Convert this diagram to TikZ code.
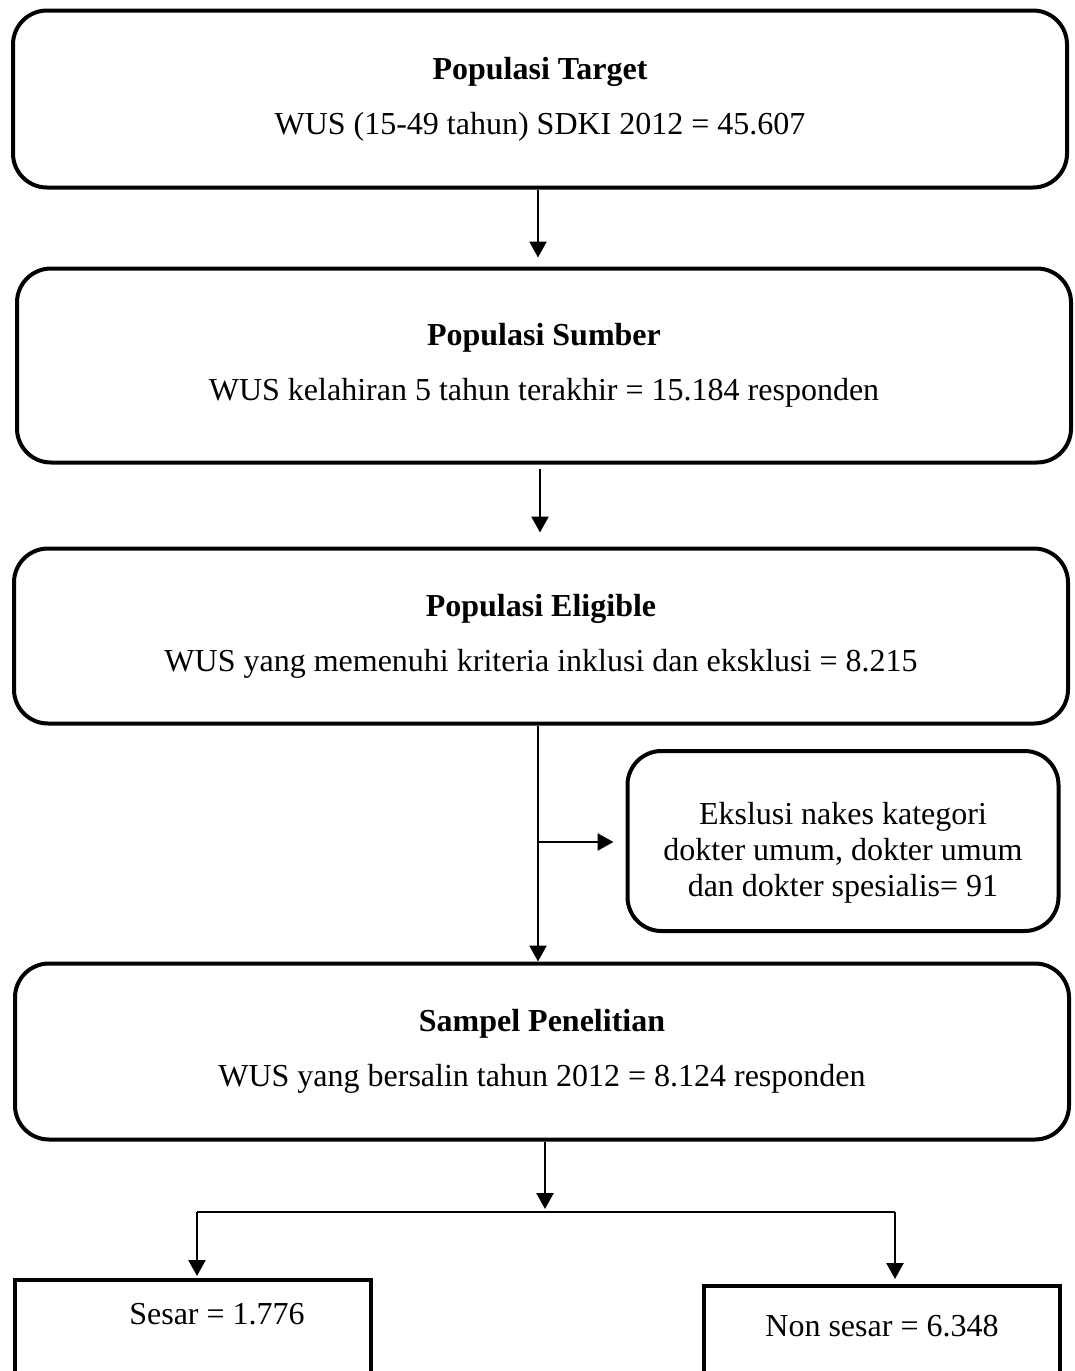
\documentclass[tikz,border=0pt]{standalone}
\usepackage{fontspec}
\setmainfont{Liberation Serif}
\usepackage{tikz}
\usetikzlibrary{arrows.meta,positioning}

\begin{document}
\begin{tikzpicture}[x=1pt,y=1pt,
  popbox/.style={draw,line width=4pt,rounded corners=34pt,fill=white,
                 minimum width=1054pt,align=center,
                 font=\fontsize{32}{38}\selectfont},
  exbox/.style={draw,line width=4pt,rounded corners=34pt,
                minimum width=431pt,minimum height=180pt,align=center,
                font=\fontsize{32}{36}\selectfont},
  endbox/.style={draw,line width=4pt,minimum width=356pt,anchor=north,
                 text height=36pt,text depth=90pt,inner ysep=8pt,
                 font=\fontsize{32}{38}\selectfont},
  arr/.style={-{Triangle[length=16pt,width=17pt]},line width=2.5pt}
]
\useasboundingbox (0,0) rectangle (1074,-1371);

\node[popbox,minimum height=177pt] (target) at (540,-99)
  {\textbf{Populasi Target}\\[17pt]WUS (15-49 tahun) SDKI 2012 = 45.607};
\node[popbox,minimum height=194pt,below=77pt of target,xshift=4pt] (sumber)
  {\textbf{Populasi Sumber}\\[17pt]WUS kelahiran 5 tahun terakhir = 15.184 responden};
\node[popbox,minimum height=175pt,below=82pt of sumber,xshift=-3pt] (eligible)
  {\textbf{Populasi Eligible}\\[17pt]WUS yang memenuhi kriteria inklusi dan eksklusi = 8.215};
\node[popbox,minimum height=176pt,below=236pt of eligible,xshift=1pt] (sampel)
  {\textbf{Sampel Penelitian}\\[17pt]WUS yang bersalin tahun 2012 = 8.124 responden};

\node[exbox,text height=118pt] (ekslusi) at (843,-841)
  {Ekslusi nakes kategori\\dokter umum, dokter umum\\dan dokter spesialis= 91};

\node[endbox] (sesar) at (193,-1278) {\hspace*{48pt}Sesar = 1.776};
\node[endbox,text height=42pt] (nonsesar) at (882,-1284) {Non sesar = 6.348};

\coordinate (turun) at (538,-842);
\coordinate (cabang) at (545,-1212);
\coordinate (kiri) at (197,-1212);
\coordinate (kanan) at (895,-1212);

\draw[arr,shorten >=9pt] (target.south -| 538,0) -- (538,0 |- sumber.north);
\draw[arr,shorten >=14pt,shorten <=4pt] (sumber.south -| 540,0) -- (540,0 |- eligible.north);
\draw[arr] (eligible.south -| turun) -- (turun |- sampel.north);
\draw[arr,shorten >=12pt] (turun) -- (turun -| ekslusi.west);
\draw[arr,shorten >=3pt] (sampel.south -| cabang) -- (cabang);
\draw[line width=2.5pt] (kiri) -- (kanan);
\draw[arr,shorten >=2pt] (kiri) -- (kiri |- sesar.north);
\draw[arr,shorten >=5pt] (kanan) -- (kanan |- nonsesar.north);
\end{tikzpicture}
\end{document}
